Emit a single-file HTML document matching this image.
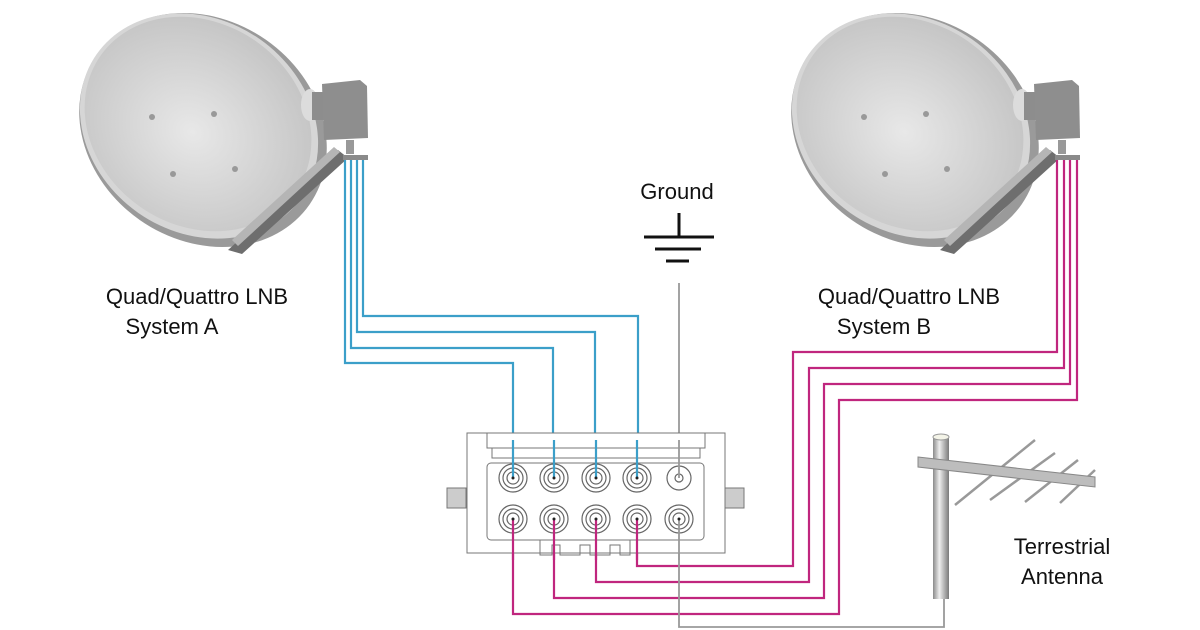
<!DOCTYPE html>
<html><head><meta charset="utf-8"><style>html,body{margin:0;padding:0;background:#fff}svg{display:block}</style></head>
<body>
<svg width="1200" height="630" viewBox="0 0 1200 630" xmlns="http://www.w3.org/2000/svg" font-family="Liberation Sans, sans-serif">
<defs>
<radialGradient id="dg" cx="0.5" cy="0.55" r="0.6"><stop offset="0" stop-color="#e8e8e8"/><stop offset="1" stop-color="#c2c2c2"/></radialGradient>
<linearGradient id="pole" x1="0" x2="1"><stop offset="0" stop-color="#8a8a8a"/><stop offset="0.4" stop-color="#eeeeee"/><stop offset="1" stop-color="#7a7a7a"/></linearGradient>
<g id="dish">
  <ellipse cx="203" cy="130" rx="130" ry="110" transform="rotate(35 203 130)" fill="#9a9a9a"/>
  <ellipse cx="199" cy="126" rx="125" ry="106" transform="rotate(35 199 126)" fill="#d6d6d6"/>
  <ellipse cx="198" cy="124" rx="119" ry="101" transform="rotate(35 198 124)" fill="url(#dg)"/>
  <circle cx="152" cy="117" r="3" fill="#999"/><circle cx="214" cy="114" r="3" fill="#999"/>
  <circle cx="173" cy="174" r="3" fill="#999"/><circle cx="235" cy="169" r="3" fill="#999"/>
  <path d="M228 250 L338 150 L348 158 L242 254 Z" fill="#6e6e6e"/>
  <path d="M232 240 L334 147 L340 152 L238 246 Z" fill="#b5b5b5"/>
  <ellipse cx="310" cy="105" rx="9" ry="16" fill="#dcdcdc"/>
  <rect x="312" y="92" width="16" height="28" fill="#8d8d8d"/>
  <path d="M322 84 L360 80 L367 86 L368 138 L324 140 Z" fill="#8e8e8e"/>
  <rect x="346" y="140" width="8" height="14" fill="#999"/>
  <rect x="343" y="155" width="25" height="5" fill="#8a8a8a"/>
</g>
</defs>
<use href="#dish"/>
<use href="#dish" transform="translate(712,0)"/>

<g fill="none" stroke-width="2.2">
 <g stroke="#3b9fc9">
  <path d="M363 160 V316 H638 V478"/>
  <path d="M357 160 V332 H595 V478"/>
  <path d="M351 160 V348 H553 V478"/>
  <path d="M345 160 V363 H513 V478"/>
 </g>
 <g stroke="#c0267e">
  <path d="M1057 160 V352 H793 V566 H637 V519"/>
  <path d="M1064 160 V368 H809 V582 H596 V519"/>
  <path d="M1070 160 V384 H824 V598 H554 V519"/>
  <path d="M1077 160 V400 H839 V614 H513 V519"/>
 </g>
 <path d="M679 283 V627 H944 V597" stroke="#999" stroke-width="1.8"/>
</g>

<text x="677" y="199" font-size="22" text-anchor="middle" fill="#111">Ground</text>
<g stroke="#111" stroke-width="3"><line x1="679" y1="213" x2="679" y2="237"/><line x1="644" y1="237" x2="714" y2="237"/><line x1="655" y1="249" x2="701" y2="249"/><line x1="666" y1="261" x2="689" y2="261"/></g>

<g font-size="22" fill="#111" text-anchor="middle">
<text x="197" y="304">Quad/Quattro LNB</text><text x="172" y="334">System A</text>
<text x="909" y="304">Quad/Quattro LNB</text><text x="884" y="334">System B</text>
<text x="1062" y="554">Terrestrial</text><text x="1062" y="584">Antenna</text>
</g>

<!-- multiswitch -->
<g fill="none" stroke="#777" stroke-width="1">
 <path d="M467 433 H725 V553 H467 Z" fill="#fff"/>
 <path d="M487 433 V448 H705 V433"/><path d="M492 448 V458 H700 V448"/>
 <rect x="487" y="463" width="217" height="77" rx="4"/>
 <path d="M540 540 V555 H552 V545 H560 V555 H580 V545 H590 V555 H610 V545 H620 V555 H630 V540"/>
 <rect x="447" y="488" width="19" height="20" fill="#ccc"/><rect x="725" y="488" width="19" height="20" fill="#ccc"/>
</g>
<g stroke="#666" fill="#fff">
 <g stroke-width="1.2">
 <circle cx="513" cy="478" r="14"/><circle cx="513" cy="478" r="10"/><circle cx="513" cy="478" r="6"/>
 <circle cx="554" cy="478" r="14"/><circle cx="554" cy="478" r="10"/><circle cx="554" cy="478" r="6"/>
 <circle cx="596" cy="478" r="14"/><circle cx="596" cy="478" r="10"/><circle cx="596" cy="478" r="6"/>
 <circle cx="637" cy="478" r="14"/><circle cx="637" cy="478" r="10"/><circle cx="637" cy="478" r="6"/>
 <circle cx="679" cy="478" r="12"/><circle cx="679" cy="478" r="4"/>
 <circle cx="513" cy="519" r="14"/><circle cx="513" cy="519" r="10"/><circle cx="513" cy="519" r="6"/>
 <circle cx="554" cy="519" r="14"/><circle cx="554" cy="519" r="10"/><circle cx="554" cy="519" r="6"/>
 <circle cx="596" cy="519" r="14"/><circle cx="596" cy="519" r="10"/><circle cx="596" cy="519" r="6"/>
 <circle cx="637" cy="519" r="14"/><circle cx="637" cy="519" r="10"/><circle cx="637" cy="519" r="6"/>
 <circle cx="679" cy="519" r="14"/><circle cx="679" cy="519" r="10"/><circle cx="679" cy="519" r="6"/>
 </g>
</g>
<g fill="none" stroke-width="2.2">
 <path d="M513 478V440M554 478V440M596 478V440M637 478V440" stroke="#3b9fc9"/>
 <path d="M513 519V560M554 519V560M596 519V560M637 519V560" stroke="#c0267e"/>
 <path d="M679 478V440M679 519V560" stroke="#999" stroke-width="1.8"/>
</g>
<g fill="#222"><circle cx="513" cy="478" r="1.5"/><circle cx="554" cy="478" r="1.5"/><circle cx="596" cy="478" r="1.5"/><circle cx="637" cy="478" r="1.5"/><circle cx="513" cy="519" r="1.5"/><circle cx="554" cy="519" r="1.5"/><circle cx="596" cy="519" r="1.5"/><circle cx="637" cy="519" r="1.5"/><circle cx="679" cy="519" r="1.5"/></g>

<!-- antenna -->
<g>
 <g stroke="#999" stroke-width="2.5">
  <line x1="955" y1="505" x2="1035" y2="440"/><line x1="990" y1="500" x2="1055" y2="453"/>
  <line x1="1025" y1="502" x2="1078" y2="460"/><line x1="1060" y1="503" x2="1095" y2="470"/>
 </g>
 <rect x="933" y="437" width="16" height="162" fill="url(#pole)"/>
 <ellipse cx="941" cy="437" rx="8" ry="3" fill="#f4f4e8" stroke="#999"/>
 <path d="M918 457 L1095 477 L1095 487 L918 467 Z" fill="#bdbdbd" stroke="#888"/>
</g>
</svg>
</body></html>
